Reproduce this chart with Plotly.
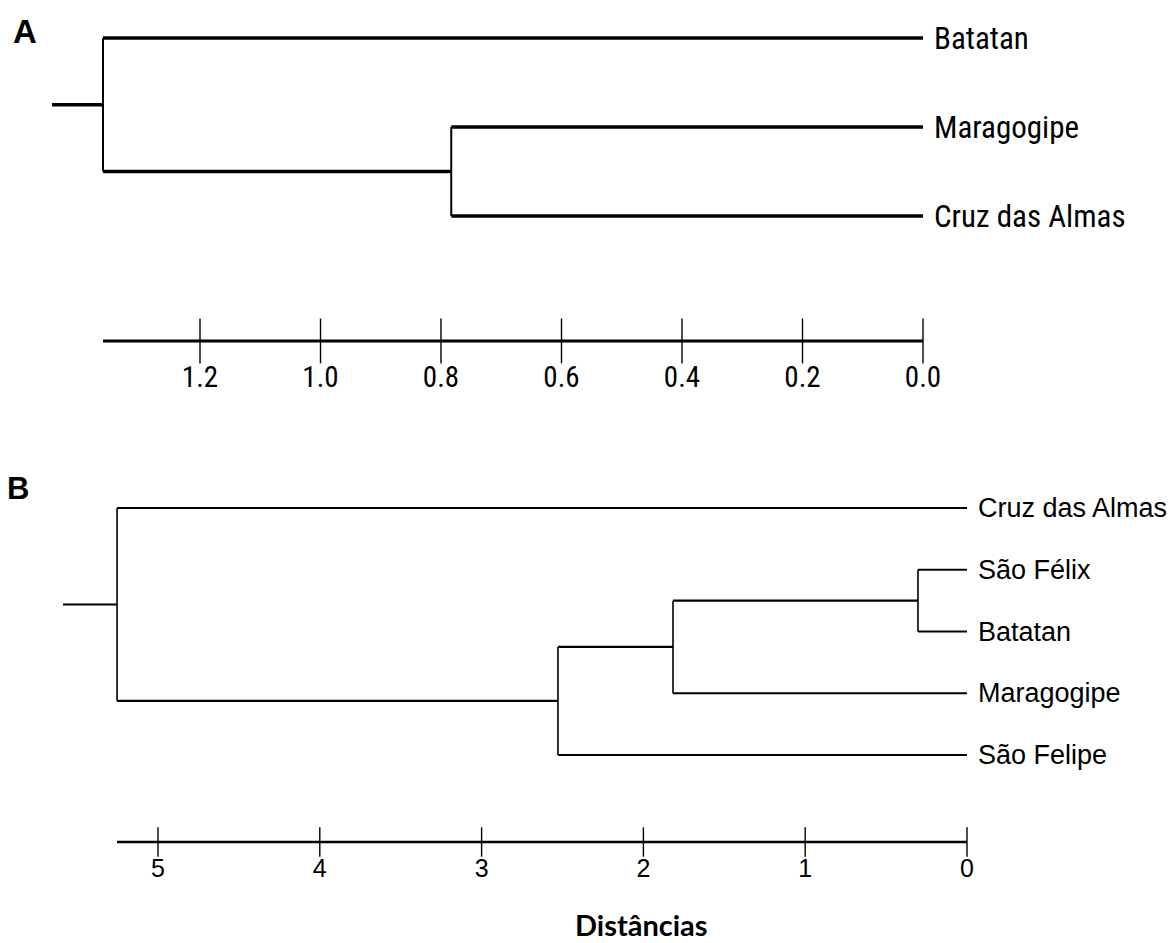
import plotly.graph_objects as go

W, H = 1176, 943

# ---------------- data ----------------
A_leaves = ["Batatan", "Maragogipe", "Cruz das Almas"]
# (child_a, child_b, merge distance); new node ids continue after the leaves
A_merges = [(1, 2, 0.783), (0, 3, 1.361)]
A_ticks = [0.0, 0.2, 0.4, 0.6, 0.8, 1.0, 1.2]
A_tick_text = ["0.0", "0.2", "0.4", "0.6", "0.8", "1.0", "1.2"]

B_leaves = ["Cruz das Almas", "São Félix", "Batatan", "Maragogipe", "São Felipe"]
B_merges = [(1, 2, 0.303), (5, 3, 1.817), (6, 4, 2.528), (0, 7, 5.253)]
B_ticks = [0, 1, 2, 3, 4, 5]
B_tick_text = ["0", "1", "2", "3", "4", "5"]

x_title = "Distâncias"

# ---------------- layout constants (pixels) ----------------
NARROW = "Roboto Condensed, DejaVu Sans Condensed, Liberation Sans, Arial, sans-serif"
ARIAL = "Arial, Liberation Sans, sans-serif"

panels = [
    dict(name="A", leaves=A_leaves, merges=A_merges, ticks=A_ticks, tick_text=A_tick_text,
         xa="x", ya="y", zero_px=923, ppu=602.5, leaf0=38, step=89,
         dom_top=0, dom_bot=460, axis_px=341, label_px=380, stub_px=51,
         hw=3.3, vw=2.0, aw=3.0, tick_len=32, leaf_font=dict(family=NARROW, size=31),
         tick_font=dict(family=NARROW, size=29), gap=9,
         letter_xy=(25, 31), letter_size=33),
    dict(name="B", leaves=B_leaves, merges=B_merges, ticks=B_ticks, tick_text=B_tick_text,
         xa="x2", ya="y2", zero_px=967, ppu=161.8, leaf0=508, step=61.75,
         dom_top=470, dom_bot=943, axis_px=842, label_px=871, stub_px=54,
         hw=2.2, vw=1.6, aw=2.7, tick_len=21, leaf_font=dict(family=ARIAL, size=27),
         tick_font=dict(family=ARIAL, size=25), gap=9,
         letter_xy=(18, 488), letter_size=31),
]


def build(leaves, merges):
    n = len(leaves)
    ypos = {i: float(i) for i in range(n)}
    hgt = {i: 0.0 for i in range(n)}
    hx, hy, vx, vy = [], [], [], []
    for k, (a, b, h) in enumerate(merges):
        node = n + k
        for c in (a, b):
            hx += [hgt[c], h, None]
            hy += [ypos[c], ypos[c], None]
        vx += [h, h, None]
        vy += [ypos[a], ypos[b], None]
        ypos[node] = (ypos[a] + ypos[b]) / 2
        hgt[node] = h
    root = n + len(merges) - 1
    return hx, hy, vx, vy, ypos[root], hgt[root]


fig = go.Figure()
annotations = []
layout_axes = {}

for i, p in enumerate(panels):
    xa, ya = p["xa"], p["ya"]
    hx, hy, vx, vy, ry, rh = build(p["leaves"], p["merges"])
    ypx = lambda px, p=p: (px - p["leaf0"]) / p["step"]
    y_axis = ypx(p["axis_px"])
    y_lab = ypx(p["label_px"])

    # horizontal branches + root stub
    hx += [rh, rh + p["stub_px"] / p["ppu"], None]
    hy += [ry, ry, None]
    fig.add_trace(go.Scatter(x=hx, y=hy, mode="lines", xaxis=xa, yaxis=ya,
                             line=dict(color="black", width=p["hw"]), hoverinfo="skip"))
    fig.add_trace(go.Scatter(x=vx, y=vy, mode="lines", xaxis=xa, yaxis=ya,
                             line=dict(color="black", width=p["vw"]), hoverinfo="skip"))
    # scale bar
    fig.add_trace(go.Scatter(x=[rh, 0], y=[y_axis, y_axis], mode="lines", xaxis=xa, yaxis=ya,
                             line=dict(color="black", width=p["aw"]), hoverinfo="skip"))
    fig.add_trace(go.Scatter(x=p["ticks"], y=[y_axis] * len(p["ticks"]), mode="markers",
                             xaxis=xa, yaxis=ya, cliponaxis=False,
                             marker=dict(symbol="line-ns", size=p["tick_len"],
                                         line=dict(color="black", width=1.4)),
                             hoverinfo="skip"))
    fig.add_trace(go.Scatter(x=p["ticks"], y=[y_lab] * len(p["ticks"]), mode="text",
                             text=p["tick_text"], textposition="middle center",
                             textfont=dict(color="black", **p["tick_font"]),
                             xaxis=xa, yaxis=ya, cliponaxis=False, hoverinfo="skip"))
    # leaf labels
    for j, name in enumerate(p["leaves"]):
        annotations.append(dict(x=0, y=j, xref=xa, yref=ya, text=name, showarrow=False,
                                xanchor="left", yanchor="middle", xshift=p["gap"],
                                font=dict(color="black", **p["leaf_font"])))
    # panel letter
    lx, ly = p["letter_xy"]
    annotations.append(dict(x=lx / W, y=1 - ly / H, xref="paper", yref="paper",
                            text="<b>%s</b>" % p["name"], showarrow=False,
                            xanchor="center", yanchor="middle",
                            font=dict(family=ARIAL, size=p["letter_size"], color="black")))

    sfx = "" if i == 0 else str(i + 1)
    layout_axes["xaxis" + sfx] = dict(domain=[0, 1], anchor=ya,
                                      range=[p["zero_px"] / p["ppu"], (p["zero_px"] - W) / p["ppu"]],
                                      visible=False)
    layout_axes["yaxis" + sfx] = dict(domain=[1 - p["dom_bot"] / H, 1 - p["dom_top"] / H], anchor=xa,
                                      range=[ypx(p["dom_bot"]), ypx(p["dom_top"])],
                                      visible=False)

annotations.append(dict(x=641 / W, y=1 - 924 / H, xref="paper", yref="paper", text="<b>%s</b>" % x_title,
                        showarrow=False, xanchor="center", yanchor="middle",
                        font=dict(family="Lato, Open Sans, sans-serif", size=29, color="black")))

fig.update_layout(width=W, height=H, margin=dict(l=0, r=0, t=0, b=0), showlegend=False,
                  paper_bgcolor="white", plot_bgcolor="white", annotations=annotations,
                  **layout_axes)

fig.write_html("out.html", config={"displayModeBar": False},
               post_script="document.body.style.margin='0px';document.body.style.overflow='hidden';")
